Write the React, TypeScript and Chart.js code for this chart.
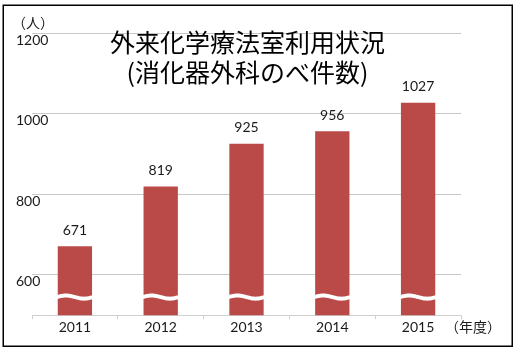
import React, { useEffect, useRef } from 'react';
import { Chart, registerables } from 'chart.js';

Chart.register(...registerables);

const years = ['2011', '2012', '2013', '2014', '2015'];
const counts = [671, 819, 925, 956, 1027];
const yTicks = [600, 800, 1000, 1200];
const titleLines = ['外来化学療法室利用状況', '(消化器外科のべ件数)'];
const yUnit = '（人）';
const xUnit = '（年度）';
const yMin = 500;
const yMax = 1200;
const breakValue = 545;

const NUM_FONT = 'Lato, "Open Sans", sans-serif';
const JP_FONT = '"Noto Sans CJK JP", "Noto Sans", sans-serif';

const decor = {
  id: 'decor',
  afterDatasetsDraw(chart: any) {
    const ctx = chart.ctx as CanvasRenderingContext2D;
    const yScale = chart.scales.y;
    const meta = chart.getDatasetMeta(0);
    const yb = yScale.getPixelForValue(breakValue);
    ctx.save();
    ctx.fillStyle = '#ffffff';
    meta.data.forEach((bar: any) => {
      const w = bar.width;
      const x0 = bar.x - w / 2 - 1;
      const x1 = bar.x + w / 2 + 1;
      const amp = 1.6;
      const th = 4;
      const n = 24;
      ctx.beginPath();
      for (let i = 0; i <= n; i++) {
        const t = i / n;
        const x = x0 + (x1 - x0) * t;
        const yy = yb - th / 2 - amp * Math.sin(2 * Math.PI * t);
        if (i === 0) ctx.moveTo(x, yy);
        else ctx.lineTo(x, yy);
      }
      for (let i = n; i >= 0; i--) {
        const t = i / n;
        const x = x0 + (x1 - x0) * t;
        const yy = yb + th / 2 - amp * Math.sin(2 * Math.PI * t);
        ctx.lineTo(x, yy);
      }
      ctx.closePath();
      ctx.fill();
    });
    ctx.fillStyle = '#1a1a1a';
    ctx.font = `14px ${NUM_FONT}`;
    ctx.textAlign = 'center';
    ctx.textBaseline = 'middle';
    meta.data.forEach((bar: any, i: number) => {
      ctx.fillText(String(counts[i]), bar.x, bar.y - 16);
    });
    ctx.restore();
  },
  afterDraw(chart: any) {
    const ctx = chart.ctx as CanvasRenderingContext2D;
    const yScale = chart.scales.y;
    const area = chart.chartArea;
    ctx.save();
    // y tick labels
    ctx.fillStyle = '#1a1a1a';
    ctx.font = `14px ${NUM_FONT}`;
    ctx.textAlign = 'left';
    ctx.textBaseline = 'middle';
    yTicks.forEach((v) => {
      ctx.fillText(String(v), 16, yScale.getPixelForValue(v) + 7);
    });
    // units
    ctx.font = `14px ${JP_FONT}`;
    ctx.fillText(yUnit, 12, 23);
    ctx.fillText(xUnit, area.right - 16, 327);
    // title
    ctx.fillStyle = '#000000';
    ctx.font = `25px ${JP_FONT}`;
    ctx.textAlign = 'center';
    const cx = (area.left + area.right) / 2 + 1;
    ctx.fillText(titleLines[0], cx, 42);
    ctx.fillText(titleLines[1], cx, 72);
    // frame
    ctx.strokeStyle = '#000000';
    ctx.lineWidth = 1.5;
    ctx.strokeRect(3.25, 5.25, 509, 341);
    ctx.restore();
  },
};

export default function App() {
  const ref = useRef<HTMLCanvasElement>(null);
  useEffect(() => {
    if (!ref.current) return;
    const chart = new Chart(ref.current, {
      type: 'bar',
      data: {
        labels: years,
        datasets: [
          {
            data: counts,
            backgroundColor: '#B94A48',
            borderWidth: 0,
            barPercentage: 0.4,
            categoryPercentage: 1.0,
          },
        ],
      },
      options: {
        responsive: false,
        animation: false,
        layout: { padding: { left: 32, right: 56, top: 33, bottom: 15 } },
        plugins: {
          legend: { display: false },
          tooltip: { enabled: false },
          title: { display: false },
        },
        scales: {
          x: {
            grid: {
              drawOnChartArea: false,
              drawTicks: true,
              tickLength: 4,
              color: '#d0d0d0',
              offset: true,
            },
            border: { color: '#d0d0d0' },
            ticks: {
              font: { family: NUM_FONT, size: 14 },
              color: '#1a1a1a',
              padding: 0,
            },
          },
          y: {
            min: yMin,
            max: yMax,
            afterBuildTicks: (scale: any) => {
              scale.ticks = yTicks.map((v) => ({ value: v }));
            },
            grid: { color: '#c8c8c8', drawTicks: false },
            border: { display: false },
            ticks: { display: false },
          },
        },
      },
      plugins: [decor],
    });
    return () => chart.destroy();
  }, []);
  return (
    <div style={{ position: 'absolute', left: 0, top: 0, width: 517, height: 351, background: '#fff' }}>
      <canvas ref={ref} width={517} height={351} style={{ display: 'block' }} />
    </div>
  );
}
